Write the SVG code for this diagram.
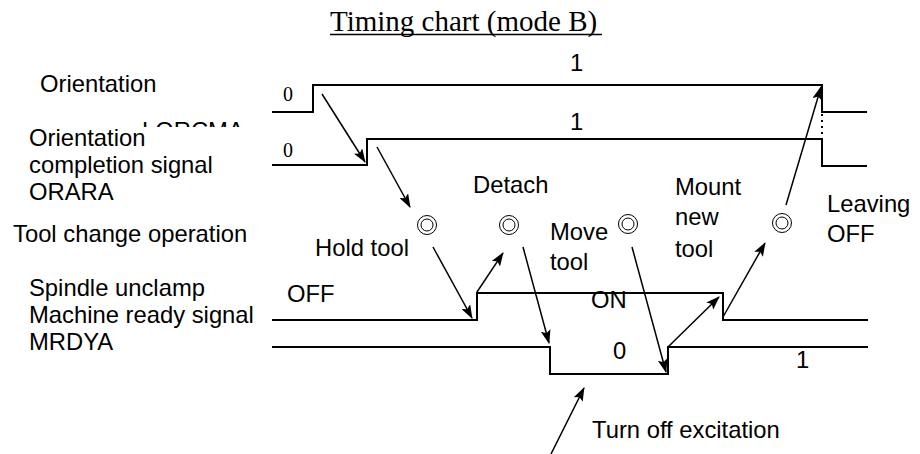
<svg xmlns="http://www.w3.org/2000/svg" width="920" height="454" viewBox="0 0 920 454">
<style>
.lbl{font-family:"Liberation Sans",Arial,sans-serif;font-size:23.8px;fill:#000}
.tm{font-family:"Liberation Serif","Times New Roman",serif;fill:#000}
.sig{fill:none;stroke:#000;stroke-width:2}
.op{fill:none;stroke:#000;stroke-width:1}
.arr{fill:none;stroke:#000;stroke-width:1.5;marker-end:url(#ah)}
</style>
<defs>
<marker id="ah" markerUnits="userSpaceOnUse" markerWidth="14" markerHeight="10" viewBox="0 0 14 10" refX="13" refY="5" orient="auto">
<path d="M0,0 L14,5 L0,10 L3,5 Z" fill="#000"/>
</marker>
<clipPath id="ghost"><rect x="130" y="121" width="120" height="6"/></clipPath>
</defs>
<rect width="920" height="454" fill="#fff"/>

<g id="title">
<text class="tm" x="330" y="31" font-size="29">Timing chart (mode B)</text>
<line x1="330" y1="34.5" x2="602" y2="34.5" stroke="#000" stroke-width="1.5"/>
</g>

<g id="orientation">
<text class="lbl" x="40" y="92">Orientation</text>
<polyline class="sig" points="272,112 313,112 313,85 822,85 822,112 867,112"/>
<text class="tm" x="283" y="101" font-size="20">0</text>
<text class="lbl" x="570" y="71">1</text>
</g>

<g id="orara">
<text class="lbl" x="142" y="139" clip-path="url(#ghost)" fill="#555">LORCMA</text>
<text class="lbl" x="29" y="146">Orientation</text>
<text class="lbl" x="29" y="173">completion signal</text>
<text class="lbl" x="29" y="200">ORARA</text>
<polyline class="sig" points="272,165 367,165 367,139 822,139 822,166 867,166"/>
<line x1="822" y1="114" x2="822" y2="139" stroke="#000" stroke-width="2" stroke-dasharray="2,4"/>
<text class="tm" x="283" y="157" font-size="20">0</text>
<text class="lbl" x="570" y="130">1</text>
</g>

<g id="tool-change">
<text class="lbl" x="13" y="242">Tool change operation</text>
</g>

<g id="hold-tool">
<circle class="op" cx="427" cy="225" r="9.5"/><circle class="op" cx="427" cy="225" r="6"/>
<text class="lbl" x="315" y="256">Hold tool</text>
</g>
<g id="detach">
<circle class="op" cx="509" cy="225" r="9.5"/><circle class="op" cx="509" cy="225" r="6"/>
<text class="lbl" x="473" y="193">Detach</text>
</g>
<g id="move-tool">
<circle class="op" cx="628" cy="224" r="9.5"/><circle class="op" cx="628" cy="224" r="6"/>
<text class="lbl" x="550" y="240">Move</text>
<text class="lbl" x="550" y="270">tool</text>
</g>
<g id="mount-new-tool">
<text class="lbl" x="675" y="195">Mount</text>
<text class="lbl" x="675" y="225">new</text>
<text class="lbl" x="675" y="257">tool</text>
</g>
<g id="leaving">
<circle class="op" cx="782" cy="223" r="9.5"/><circle class="op" cx="782" cy="223" r="6"/>
<text class="lbl" x="827" y="212">Leaving</text>
<text class="lbl" x="827" y="242">OFF</text>
</g>

<g id="spindle-unclamp">
<text class="lbl" x="29" y="296">Spindle unclamp</text>
<polyline class="sig" points="272,320 477,320 477,293 723,293 723,320 868,320"/>
<text class="lbl" x="287" y="302">OFF</text>
<text class="lbl" x="591" y="308">ON</text>
</g>

<g id="mrdya">
<text class="lbl" x="29" y="323">Machine ready signal</text>
<text class="lbl" x="29" y="350">MRDYA</text>
<polyline class="sig" points="272,347 550,347 550,374 668,374 668,347 868,347"/>
<text class="lbl" x="613" y="359">0</text>
<text class="lbl" x="796" y="368">1</text>
</g>

<g id="turn-off-excitation">
<text class="lbl" x="592" y="438">Turn off excitation</text>
</g>

<g id="connectors">
<line class="arr" x1="322" y1="94" x2="365" y2="162"/>
<line class="arr" x1="377" y1="147" x2="410" y2="207"/>
<line class="arr" x1="433" y1="247" x2="472" y2="318"/>
<line class="arr" x1="477" y1="292" x2="503" y2="253"/>
<line class="arr" x1="523" y1="247" x2="549" y2="343"/>
<line class="arr" x1="632" y1="247" x2="666" y2="372"/>
<line class="arr" x1="668" y1="347" x2="719" y2="297"/>
<line class="arr" x1="723" y1="317" x2="765" y2="243"/>
<line class="arr" x1="786" y1="205" x2="821" y2="87"/>
<line class="arr" x1="551" y1="454" x2="584" y2="388"/>
</g>
</svg>
